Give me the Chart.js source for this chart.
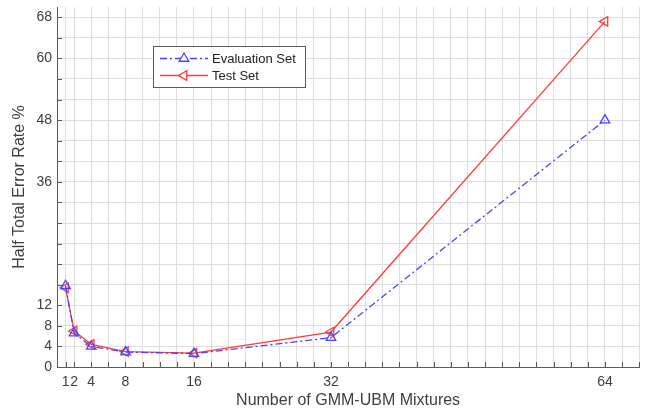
<!DOCTYPE html>
<html>
<head>
<meta charset="utf-8">
<script src="https://cdn.jsdelivr.net/npm/chart.js@4.4.1/dist/chart.umd.min.js"></script>
<style>
html,body{margin:0;padding:0;background:#fff;}
#wrap{width:646px;height:410px;position:relative;}
</style>
</head>
<body>
<div id="wrap"><canvas id="c" width="646" height="410"></canvas></div>
<script>
const mixtures = [1, 2, 4, 8, 16, 32, 64];
const evalSet = [15.8, 6.6, 4.0, 2.9, 2.6, 5.7, 48.0];
const testSet = [15.4, 7.0, 4.4, 3.0, 2.7, 6.8, 67.2];
const xTickLabels = [1, 2, 4, 8, 16, 32, 64];
const yTickLabels = [0, 4, 8, 12, 36, 48, 60, 68];
const seriesNames = ['Evaluation Set', 'Test Set'];

const xTickValues = [0, 1];
for (let v = 2; v <= 68; v += 2) xTickValues.push(v);
const yTickValues = [];
for (let v = 0; v <= 68; v += 4) yTickValues.push(v);

const BLUE = 'rgb(70,70,255)';
const RED = 'rgb(255,60,60)';
const AXIS = '#5a5a5a';
const TEXT = '#404040';
const FONT = '"Liberation Sans", Arial, sans-serif';

const innerTicks = {
  id: 'innerTicks',
  beforeDatasetsDraw(chart) {
    const {ctx, scales: {x, y}} = chart;
    ctx.save();
    ctx.strokeStyle = AXIS;
    ctx.lineWidth = 1;
    ctx.beginPath();
    xTickValues.forEach(v => {
      const px = Math.round(x.getPixelForValue(v)) + 0.5;
      ctx.moveTo(px, y.bottom);
      ctx.lineTo(px, y.bottom - 5);
    });
    yTickValues.forEach(v => {
      const py = Math.round(y.getPixelForValue(v)) + 0.5;
      ctx.moveTo(x.left, py);
      ctx.lineTo(x.left + 5, py);
    });
    ctx.stroke();
    ctx.restore();
  }
};

const boxLegend = {
  id: 'boxLegend',
  afterDraw(chart) {
    const {ctx} = chart;
    const bx = 153.5, by = 46.5, bw = 152, bh = 41;
    ctx.save();
    ctx.fillStyle = '#fff';
    ctx.strokeStyle = '#5a5a5a';
    ctx.lineWidth = 1;
    ctx.fillRect(bx, by, bw, bh);
    ctx.strokeRect(bx, by, bw, bh);
    ctx.font = '13px ' + FONT;
    ctx.textBaseline = 'middle';
    chart.data.datasets.forEach((ds, i) => {
      const cy = 58.5 + i * 17;
      ctx.strokeStyle = ds.borderColor;
      ctx.lineWidth = ds.borderWidth;
      ctx.setLineDash(ds.borderDash || []);
      ctx.beginPath();
      ctx.moveTo(160, cy);
      ctx.lineTo(208, cy);
      ctx.stroke();
      ctx.setLineDash([]);
      ctx.fillStyle = '#fff';
      Chart.helpers.drawPoint(ctx, {
        pointStyle: ds.pointStyle,
        rotation: ds.pointRotation || 0,
        radius: ds.pointRadius,
        borderWidth: ds.pointBorderWidth
      }, 184, cy);
      ctx.fillStyle = '#222';
      ctx.fillText(ds.label, 212, cy + 0.5);
    });
    ctx.restore();
  }
};

new Chart(document.getElementById('c'), {
  type: 'line',
  data: {
    datasets: [
      {
        label: seriesNames[0],
        data: mixtures.map((m, i) => ({x: m, y: evalSet[i]})),
        borderColor: BLUE,
        backgroundColor: 'rgba(255,255,255,0)',
        borderWidth: 1.3,
        borderDash: [7, 3, 2, 3],
        pointStyle: 'triangle',
        pointRadius: 5.5,
        pointBorderWidth: 1.3,
        pointBorderColor: BLUE,
        pointBackgroundColor: 'rgba(255,255,255,0)',
        tension: 0
      },
      {
        label: seriesNames[1],
        data: mixtures.map((m, i) => ({x: m, y: testSet[i]})),
        borderColor: RED,
        backgroundColor: 'rgba(255,255,255,0)',
        borderWidth: 1.3,
        pointStyle: 'triangle',
        pointRotation: -90,
        pointRadius: 5.5,
        pointBorderWidth: 1.3,
        pointBorderColor: RED,
        pointBackgroundColor: 'rgba(255,255,255,0)',
        tension: 0
      }
    ]
  },
  options: {
    responsive: false,
    animation: false,
    devicePixelRatio: 1,
    layout: {padding: {top: 7, right: 6, left: 0, bottom: 0}},
    plugins: {legend: {display: false}, tooltip: {enabled: false}},
    scales: {
      x: {
        type: 'linear',
        min: 0,
        max: 68,
        afterBuildTicks(s) { s.ticks = xTickValues.map(v => ({value: v})); },
        afterFit(s) { s.height = 43; s.paddingLeft = 0; s.paddingRight = 0; },
        grid: {color: '#dedede', lineWidth: 1, drawTicks: false},
        border: {color: AXIS, width: 1},
        ticks: {
          autoSkip: false,
          maxRotation: 0,
          padding: 7,
          color: TEXT,
          font: {size: 14, family: FONT},
          callback: v => xTickLabels.includes(v) ? String(v) : ''
        },
        title: {
          display: true,
          text: 'Number of GMM-UBM Mixtures',
          color: TEXT,
          font: {size: 16, family: FONT},
          padding: {top: 0, bottom: 0}
        }
      },
      y: {
        type: 'linear',
        min: 0,
        max: 70,
        afterBuildTicks(s) { s.ticks = yTickValues.map(v => ({value: v})); },
        afterFit(s) { s.width = 57; s.paddingTop = 0; s.paddingBottom = 0; },
        grid: {color: '#dedede', lineWidth: 1, drawTicks: false},
        border: {color: AXIS, width: 1},
        ticks: {
          autoSkip: false,
          padding: 5,
          color: TEXT,
          font: {size: 14, family: FONT},
          callback: v => yTickLabels.includes(v) ? String(v) : ''
        },
        title: {
          display: true,
          text: 'Half Total Error Rate %',
          color: TEXT,
          font: {size: 16, family: FONT},
          padding: {top: 10, bottom: 0}
        }
      }
    }
  },
  plugins: [innerTicks, boxLegend]
});
</script>
</body>
</html>
